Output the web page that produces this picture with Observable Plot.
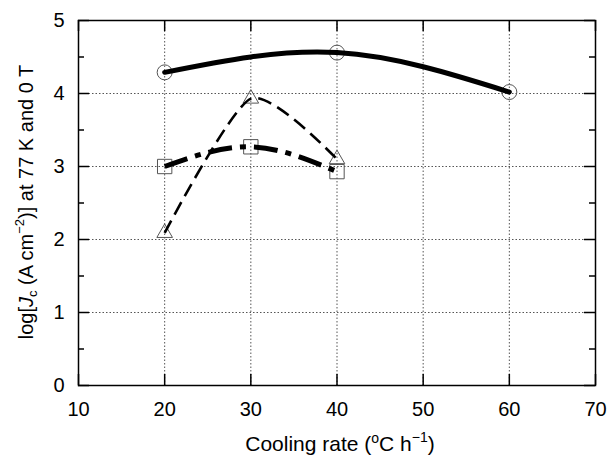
<!DOCTYPE html>
<html>
<head>
<meta charset="utf-8">
<script src="https://cdn.jsdelivr.net/npm/d3@7"></script>
<script src="https://cdn.jsdelivr.net/npm/@observablehq/plot@0.6"></script>
<style>
  html, body { margin: 0; padding: 0; background: #fff; }
  #chart svg { display: block; }
</style>
</head>
<body>
<div id="chart"></div>
<script>
// Data
const xTicks = [10, 20, 30, 40, 50, 60, 70];
const yTicks = [0, 1, 2, 3, 4, 5];
const yMinor = [0.5, 1.5, 2.5, 3.5, 4.5];

const rateCircle = [20, 40, 60];
const jcCircle = [4.29, 4.56, 4.02];

const rateTriangle = [20, 30, 40];
const jcTriangle = [2.09, 3.93, 3.10];

const rateSquare = [20, 30, 40];
const jcSquare = [3.00, 3.27, 2.93];

const toRows = (xs, ys) => xs.map((x, i) => ({x, y: ys[i]}));
const circles = toRows(rateCircle, jcCircle);
const triangles = toRows(rateTriangle, jcTriangle);
const squares = toRows(rateSquare, jcSquare);

const W = 607, H = 459, ML = 78, MR = 12, MT = 20, MB = 74;
const plotW = W - ML - MR, plotH = H - MT - MB;
const major = 11, minor = 6;

const font = "'Liberation Sans', Arial, Helvetica, sans-serif";
const gridStyle = {stroke: "#555", strokeOpacity: 1, strokeWidth: 1, strokeDasharray: "1.5,2"};
const tickStyle = {stroke: "#000", strokeWidth: 1.5};

const chart = Plot.plot({
  width: W,
  height: H,
  marginLeft: ML,
  marginRight: MR,
  marginTop: MT,
  marginBottom: MB,
  style: {fontFamily: font, background: "#fff", color: "#000"},
  x: {domain: [10, 70], ticks: xTicks},
  y: {domain: [0, 5], ticks: yTicks},
  marks: [
    Plot.gridX(xTicks, gridStyle),
    Plot.gridY(yTicks, gridStyle),
    // inward ticks (bottom, top, left, right)
    Plot.tickX(xTicks, {x: d => d, insetTop: plotH - major, ...tickStyle}),
    Plot.tickX(xTicks, {x: d => d, insetBottom: plotH - major, ...tickStyle}),
    Plot.tickY(yTicks, {y: d => d, insetRight: plotW - major, ...tickStyle}),
    Plot.tickY(yTicks, {y: d => d, insetLeft: plotW - major, ...tickStyle}),
    Plot.tickY(yMinor, {y: d => d, insetRight: plotW - minor, ...tickStyle}),
    Plot.tickY(yMinor, {y: d => d, insetLeft: plotW - minor, ...tickStyle}),
    // tick labels
    Plot.axisX(xTicks, {anchor: "bottom", tickSize: 0, tickPadding: 16, fontSize: 20, label: null, tickFormat: "d"}),
    Plot.axisY(yTicks, {anchor: "left", tickSize: 0, tickPadding: 14, fontSize: 20, label: null, tickFormat: "d"}),
    // markers
    Plot.dot(circles, {x: "x", y: "y", symbol: "circle", r: 7.5, stroke: "#555", strokeWidth: 1, fill: "none"}),
    Plot.dot(triangles, {x: "x", y: "y", symbol: "triangle", r: 5.8, stroke: "#555", strokeWidth: 1, fill: "none"}),
    Plot.dot(squares, {x: "x", y: "y", symbol: "square", r: 8.1, stroke: "#555", strokeWidth: 1, fill: "none"}),
    // curves
    Plot.line(circles, {x: "x", y: "y", curve: "natural", stroke: "#000", strokeWidth: 5, strokeLinecap: "round"}),
    Plot.line(triangles, {x: "x", y: "y", curve: "cardinal", tension: 0.3, stroke: "#000", strokeWidth: 2.6, strokeDasharray: "14,7", strokeLinecap: "butt"}),
    Plot.line(squares, {x: "x", y: "y", curve: "natural", stroke: "#000", strokeWidth: 5, strokeDasharray: "24,8,6,8", strokeLinecap: "butt"}),
    Plot.frame({stroke: "#000", strokeWidth: 1.5})
  ]
});

document.getElementById("chart").appendChild(chart);

// Axis titles with superscripts / subscripts
const svg = d3.select(chart);
const xl = svg.append("text")
  .attr("x", 340)
  .attr("y", 451)
  .attr("text-anchor", "middle")
  .attr("font-family", font)
  .attr("font-size", 21)
  .attr("fill", "#000");
xl.append("tspan").text("Cooling rate (");
xl.append("tspan").attr("font-size", 14).attr("dy", -8).text("o");
xl.append("tspan").attr("dy", 8).text("C h");
xl.append("tspan").attr("font-size", 14).attr("dy", -9).text("\u22121");
xl.append("tspan").attr("dy", 9).text(")");

const yl = svg.append("text")
  .attr("transform", `translate(33,202) rotate(-90)`)
  .attr("text-anchor", "middle")
  .attr("font-family", font)
  .attr("font-size", 20)
  .attr("fill", "#000");
yl.append("tspan").text("log[");
yl.append("tspan").attr("font-style", "italic").text("J");
yl.append("tspan").attr("font-size", 13).attr("dy", 4).text("c");
yl.append("tspan").attr("dy", -4).text(" (A cm");
yl.append("tspan").attr("font-size", 13).attr("dy", -9).text("\u22122");
yl.append("tspan").attr("dy", 9).text(")] at 77 K and 0 T");
</script>
</body>
</html>
